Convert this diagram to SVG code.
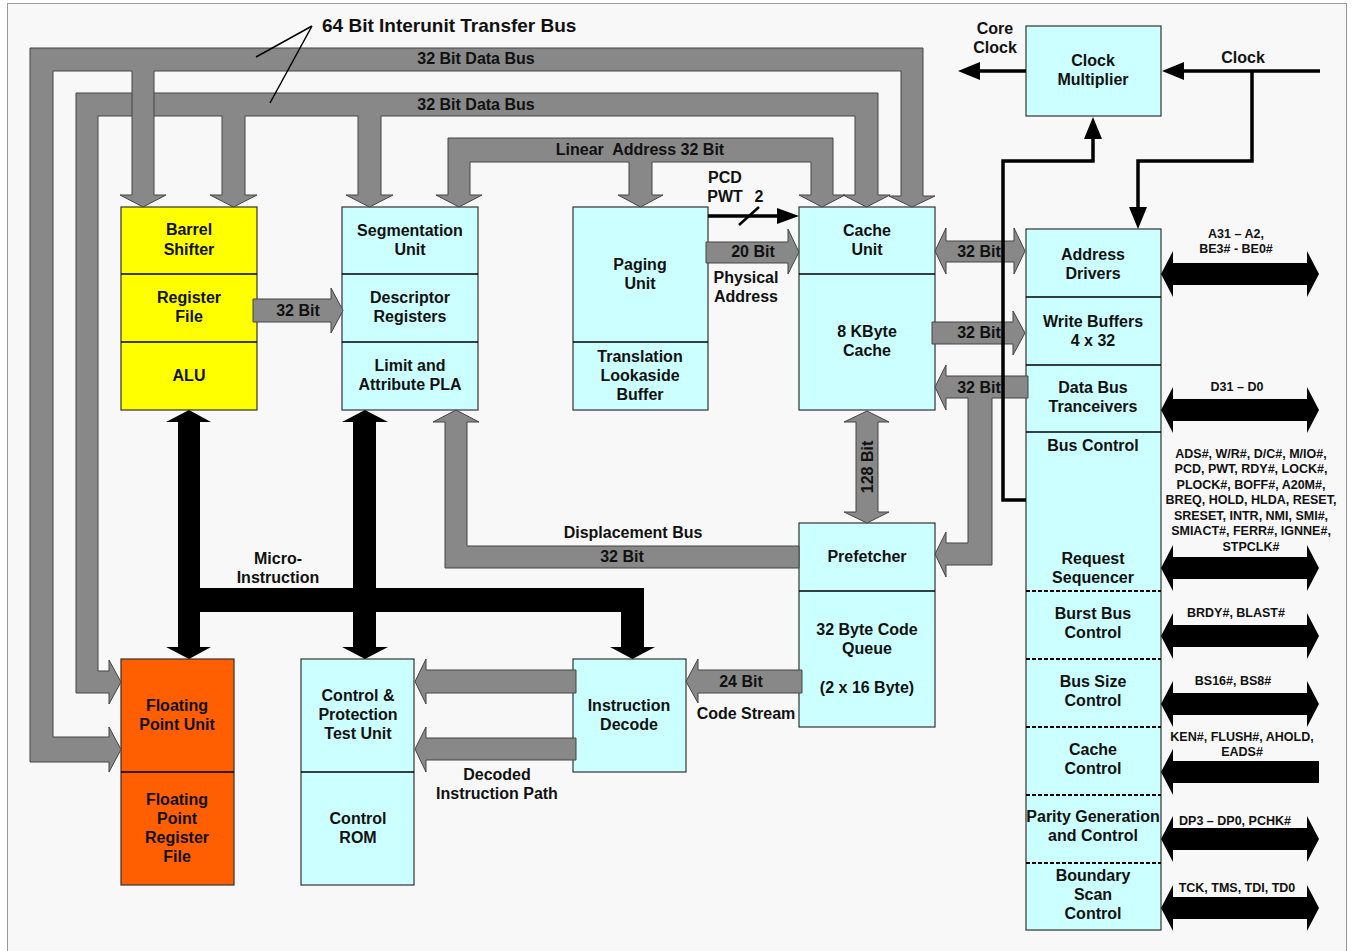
<svg xmlns="http://www.w3.org/2000/svg" width="1355" height="951" viewBox="0 0 1355 951">
<style>
text{font-family:"Liberation Sans",Arial,sans-serif;font-weight:bold;fill:#111;text-anchor:middle}
.t{font-size:16px}
.s{font-size:12.5px}
.ti{font-size:19px;text-anchor:start}
.cy{fill:#ccffff;stroke:#333;stroke-width:1.2}
.ye{fill:#ffff00;stroke:#333;stroke-width:1.2}
.or{fill:#ff5f00;stroke:#333;stroke-width:1.2}
.dv{stroke:#000;stroke-width:1.5}
.dd{stroke:#000;stroke-width:2;stroke-dasharray:4 2}
.bus{fill:#888;stroke:#444;stroke-width:1}
.blk{fill:#000}
.ln{fill:none;stroke:#000;stroke-width:3.5}
</style>
<rect x="0" y="0" width="1355" height="951" fill="#fff"/>
<rect x="7.5" y="3.5" width="1339" height="960" fill="#f8f8f8" stroke="#999" stroke-width="1"/>

<g id="barrel-unit">
<rect class="ye" x="121" y="207" width="136" height="203"/>
<line class="dv" x1="121" y1="274" x2="257" y2="274"/>
<line class="dv" x1="121" y1="342" x2="257" y2="342"/>
<text class="t" x="189" y="235">Barrel</text><text class="t" x="189" y="255">Shifter</text>
<text class="t" x="189" y="303">Register</text><text class="t" x="189" y="322">File</text>
<text class="t" x="189" y="381">ALU</text>
</g>

<g id="segmentation-unit">
<rect class="cy" x="342" y="207" width="136" height="203"/>
<line class="dv" x1="342" y1="274" x2="478" y2="274"/>
<line class="dv" x1="342" y1="342" x2="478" y2="342"/>
<text class="t" x="410" y="236">Segmentation</text><text class="t" x="410" y="255">Unit</text>
<text class="t" x="410" y="303">Descriptor</text><text class="t" x="410" y="322">Registers</text>
<text class="t" x="410" y="371">Limit and</text><text class="t" x="410" y="390">Attribute PLA</text>
</g>

<g id="paging-unit">
<rect class="cy" x="573" y="207" width="135" height="203"/>
<line class="dv" x1="573" y1="342" x2="708" y2="342"/>
<text class="t" x="640" y="270">Paging</text><text class="t" x="640" y="289">Unit</text>
<text class="t" x="640" y="362">Translation</text><text class="t" x="640" y="381">Lookaside</text><text class="t" x="640" y="400">Buffer</text>
</g>

<g id="cache-unit">
<rect class="cy" x="799" y="207" width="136" height="203"/>
<line class="dv" x1="799" y1="274" x2="935" y2="274"/>
<text class="t" x="867" y="236">Cache</text><text class="t" x="867" y="255">Unit</text>
<text class="t" x="867" y="337">8 KByte</text><text class="t" x="867" y="356">Cache</text>
</g>

<g id="clock-multiplier">
<rect class="cy" x="1026" y="26" width="135" height="90"/>
<text class="t" x="1093" y="66">Clock</text><text class="t" x="1093" y="85">Multiplier</text>
</g>

<g id="bus-unit">
<rect class="cy" x="1026" y="229" width="135" height="701"/>
<line class="dv" x1="1026" y1="297" x2="1161" y2="297"/>
<line class="dv" x1="1026" y1="365" x2="1161" y2="365"/>
<line class="dv" x1="1026" y1="432" x2="1161" y2="432"/>
<line class="dd" x1="1026" y1="591" x2="1161" y2="591"/>
<line class="dd" x1="1026" y1="659" x2="1161" y2="659"/>
<line class="dd" x1="1026" y1="727" x2="1161" y2="727"/>
<line class="dd" x1="1026" y1="795" x2="1161" y2="795"/>
<line class="dd" x1="1026" y1="863" x2="1161" y2="863"/>
<text class="t" x="1093" y="260">Address</text><text class="t" x="1093" y="279">Drivers</text>
<text class="t" x="1093" y="327">Write Buffers</text><text class="t" x="1093" y="346">4 x 32</text>
<text class="t" x="1093" y="393">Data Bus</text><text class="t" x="1093" y="412">Tranceivers</text>
<text class="t" x="1093" y="451">Bus Control</text>
<text class="t" x="1093" y="564">Request</text><text class="t" x="1093" y="583">Sequencer</text>
<text class="t" x="1093" y="619">Burst Bus</text><text class="t" x="1093" y="638">Control</text>
<text class="t" x="1093" y="687">Bus Size</text><text class="t" x="1093" y="706">Control</text>
<text class="t" x="1093" y="755">Cache</text><text class="t" x="1093" y="774">Control</text>
<text class="t" x="1093" y="822">Parity Generation</text><text class="t" x="1093" y="841">and Control</text>
<text class="t" x="1093" y="881">Boundary</text><text class="t" x="1093" y="900">Scan</text><text class="t" x="1093" y="919">Control</text>
</g>

<g id="prefetcher">
<rect class="cy" x="799" y="523" width="136" height="204"/>
<line class="dv" x1="799" y1="591" x2="935" y2="591"/>
<text class="t" x="867" y="562">Prefetcher</text>
<text class="t" x="867" y="635">32 Byte Code</text><text class="t" x="867" y="654">Queue</text>
<text class="t" x="867" y="693">(2 x 16 Byte)</text>
</g>

<g id="instruction-decode">
<rect class="cy" x="573" y="659" width="113" height="113"/>
<text class="t" x="629" y="711">Instruction</text><text class="t" x="629" y="730">Decode</text>
</g>

<g id="control-unit">
<rect class="cy" x="301" y="659" width="113" height="226"/>
<line class="dv" x1="301" y1="772" x2="414" y2="772"/>
<text class="t" x="358" y="701">Control &amp;</text><text class="t" x="358" y="720">Protection</text><text class="t" x="358" y="739">Test Unit</text>
<text class="t" x="358" y="824">Control</text><text class="t" x="358" y="843">ROM</text>
</g>

<g id="fpu">
<rect class="or" x="121" y="659" width="113" height="226"/>
<line class="dv" x1="121" y1="772" x2="234" y2="772"/>
<text class="t" x="177" y="711">Floating</text><text class="t" x="177" y="730">Point Unit</text>
<text class="t" x="177" y="805">Floating</text><text class="t" x="177" y="824">Point</text><text class="t" x="177" y="843">Register</text><text class="t" x="177" y="862">File</text>
</g>

<g id="connectors">
<!-- data bus 2 -->
<path class="bus" d="M76,93 H878 V195 H890 L866.5,207 L843,195 H855 V116 H381 V195 H393 L369.5,207 L346,195 H358 V116 H245 V195 H257 L233.5,207 L210,195 H222 V116 H98 V671 H109 V660 L121,682 L109,704 V693 H76 Z"/>
<!-- data bus 1 -->
<path class="bus" d="M30,48 H923 V196 H935 L912,207 L889,196 H901 V71 H154 V195 H166 L143,207 L120,195 H132 V71 H53 V737 H109 V727 L121,749.5 L109,772 V762 H30 Z"/>
<!-- linear address -->
<path class="bus" d="M448,138 H833 V195 H845 L822,207 L799,195 H811 V162 H652 V195 H663 L640.5,207 L618,195 H629 V162 H470 V195 H482 L459,207 L436,195 H448 Z"/>
<!-- register file to segmentation -->
<path class="bus" d="M253,299 H331 V288 L343,310.5 L331,333 V322 H253 Z"/>
<!-- 20 bit physical address -->
<path class="bus" d="M706,242 H788 V229 L799,252 L788,274 V263 H706 Z"/>
<!-- cache to address drivers -->
<path class="bus" d="M935,251 L946,228 V241 H1014 V228 L1025,251 L1014,274 V262 H946 V274 Z"/>
<!-- cache to write buffers -->
<path class="bus" d="M932,322 H1013 V311 L1025,333 L1013,355 V344 H932 Z"/>
<!-- data bus transceivers to cache and prefetcher -->
<path class="bus" d="M1028,376 V398 H992 V565 H946 V577 L935,554 L946,532 V543 H968 V398 H946 V410 L935,387 L946,365 V376 Z"/>
<!-- 128 bit -->
<path class="bus" d="M867,411 L889,422 H878 V512 H889 L867,523 L844,512 H856 V422 H844 Z"/>
<!-- displacement bus -->
<path class="bus" d="M799,546 V568 H445 V422 H433 L456,410 L479,422 H467 V546 Z"/>
<!-- code stream -->
<path class="bus" d="M802,670 V693 H698 V703 L686,681.5 L698,659 V670 Z"/>
<!-- decoded instruction path -->
<path class="bus" d="M576,670 V693 H426 V704 L415,681.5 L426,659 V670 Z"/>
<path class="bus" d="M576,738 V760 H426 V772 L415,749 L426,727 V738 Z"/>

<!-- micro-instruction bus -->
<path class="blk" d="M189,410 L211,422 H200 V647 H211 L189,659 L166,647 H178 V422 H166 Z"/>
<path class="blk" d="M365,410 L388,422 H376 V647 H388 L365,659 L342,647 H353 V422 H342 Z"/>
<rect class="blk" x="189" y="588" width="455" height="24"/>
<path class="blk" d="M621,588 H644 V647 H655 L632.5,659 L610,647 H621 Z"/>

<!-- external pin arrows -->
<path class="blk" d="M1161,274 L1173,251 V263 H1307 V251 L1319,274 L1307,297 V285 H1173 V297 Z"/>
<path class="blk" d="M1161,410 L1173,387 V399 H1307 V387 L1319,410 L1307,433 V421 H1173 V433 Z"/>
<path class="blk" d="M1161,568 L1173,545 V557 H1307 V545 L1319,568 L1307,591 V579 H1173 V591 Z"/>
<path class="blk" d="M1161,636 L1173,613 V625 H1307 V613 L1319,636 L1307,659 V647 H1173 V659 Z"/>
<path class="blk" d="M1161,704 L1173,681 V693 H1307 V681 L1319,704 L1307,727 V715 H1173 V727 Z"/>
<path class="blk" d="M1161,772 L1173,749 V761 H1319 V783 H1173 V795 Z"/>
<path class="blk" d="M1161,839 L1173,816 V828 H1307 V816 L1319,839 L1307,862 V850 H1173 V862 Z"/>
<path class="blk" d="M1161,908 L1173,885 V897 H1307 V885 L1319,908 L1307,931 V919 H1173 V931 Z"/>

<!-- clock lines -->
<path class="ln" d="M1320,71 H1182"/>
<path class="blk" d="M1162,71 L1184,62 V80 Z"/>
<path class="ln" d="M1252,71 V161 H1138 V209"/>
<path class="blk" d="M1138,229 L1129,207 H1147 Z"/>
<path class="ln" d="M1026,71 H979"/>
<path class="blk" d="M958,71 L980,62 V80 Z"/>
<path class="ln" d="M1026,500 H1003 V161 H1093 V137"/>
<path class="blk" d="M1093,117 L1084,139 H1102 Z"/>

<!-- PCD PWT -->
<path class="ln" d="M708,216 H779" stroke-width="3"/>
<path class="blk" d="M799,216 L777,208 V224 Z"/>
<path d="M739,225 L759,207" stroke="#000" stroke-width="2.5"/>
</g>

<g id="title">
<text class="ti" x="322" y="32">64 Bit Interunit Transfer Bus</text>
<path d="M312,26 L256,57 M312,26 L270,103" fill="none" stroke="#000" stroke-width="1.5"/>
</g>

<g id="labels">
<text class="t" x="476" y="64">32 Bit Data Bus</text>
<text class="t" x="476" y="110">32 Bit Data Bus</text>
<text class="t" x="640" y="155" xml:space="preserve">Linear  Address 32 Bit</text>
<text class="t" x="725" y="183">PCD</text>
<text class="t" x="725" y="202">PWT</text>
<text class="t" x="759" y="202">2</text>
<text class="t" x="753" y="257">20 Bit</text>
<text class="t" x="746" y="283">Physical</text>
<text class="t" x="746" y="302">Address</text>
<text class="t" x="298" y="316">32 Bit</text>
<text class="t" x="979" y="257">32 Bit</text>
<text class="t" x="979" y="338">32 Bit</text>
<text class="t" x="979" y="393">32 Bit</text>
<text class="t" transform="translate(873,467) rotate(-90)">128 Bit</text>
<text class="t" x="633" y="538">Displacement Bus</text>
<text class="t" x="622" y="562">32 Bit</text>
<text class="t" x="278" y="564">Micro-</text>
<text class="t" x="278" y="583">Instruction</text>
<text class="t" x="741" y="687">24 Bit</text>
<text class="t" x="746" y="719">Code Stream</text>
<text class="t" x="497" y="780">Decoded</text>
<text class="t" x="497" y="799">Instruction Path</text>
<text class="t" x="995" y="34">Core</text>
<text class="t" x="995" y="53">Clock</text>
<text class="t" x="1243" y="63">Clock</text>
<text class="s" x="1236" y="238">A31 – A2,</text>
<text class="s" x="1236" y="253">BE3# - BE0#</text>
<text class="s" x="1237" y="391">D31 – D0</text>
<text class="s" x="1251" y="458">ADS#, W/R#, D/C#, M/IO#,</text>
<text class="s" x="1251" y="473">PCD, PWT, RDY#, LOCK#,</text>
<text class="s" x="1251" y="489">PLOCK#, BOFF#, A20M#,</text>
<text class="s" x="1251" y="504">BREQ, HOLD, HLDA, RESET,</text>
<text class="s" x="1251" y="520">SRESET, INTR, NMI, SMI#,</text>
<text class="s" x="1251" y="535">SMIACT#, FERR#, IGNNE#,</text>
<text class="s" x="1251" y="551">STPCLK#</text>
<text class="s" x="1236" y="617">BRDY#, BLAST#</text>
<text class="s" x="1233" y="685">BS16#, BS8#</text>
<text class="s" x="1242" y="741">KEN#, FLUSH#, AHOLD,</text>
<text class="s" x="1242" y="756">EADS#</text>
<text class="s" x="1235" y="825">DP3 – DP0, PCHK#</text>
<text class="s" x="1237" y="892">TCK, TMS, TDI, TD0</text>
</g>
</svg>
